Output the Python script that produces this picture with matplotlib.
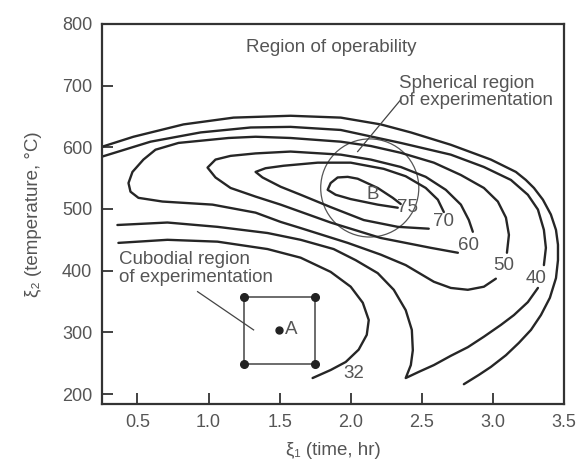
import numpy as np
import matplotlib.pyplot as plt
from matplotlib.patches import Ellipse

plt.rcParams['font.family'] = ['Liberation Sans', 'DejaVu Sans']

LINE = '#262626'
TXT = '#555555'
FS = 13.5

# contour curves (time in hr, temperature in C)
c75_x = [2.352, 2.296, 2.190, 2.049, 1.979, 1.908, 1.859, 1.838, 1.894, 2.000, 2.190, 2.331]
c75_y = [508, 518, 534, 549, 552, 551, 542, 531, 523, 516, 507, 502]

c70_x = [2.655, 2.613, 2.528, 2.387, 2.232, 2.000, 1.768, 1.528, 1.401, 1.331,
         1.380, 1.507, 1.648, 1.859, 2.092, 2.331, 2.549]
c70_y = [495, 515, 534, 553, 565, 575, 575, 570, 566, 560,
         551, 536, 523, 503, 482, 471, 468]

c60_x = [2.859, 2.831, 2.775, 2.669, 2.528, 2.352, 2.141, 1.930, 1.577, 1.331, 1.155,
         1.049, 0.993, 1.049, 1.155, 1.331, 1.507, 1.859, 2.211, 2.563, 2.754]
c60_y = [463, 482, 507, 531, 552, 568, 580, 588, 593, 590, 586,
         580, 567, 551, 534, 520, 507, 478, 453, 437, 429]

c50_x = [3.099, 3.113, 3.092, 3.035, 2.937, 2.775, 2.585, 2.352, 2.141, 1.930, 1.577,
         1.331, 1.141, 0.789, 0.627, 0.542, 0.465, 0.437, 0.451, 0.507, 0.676, 1.028,
         1.331, 1.507, 1.648, 1.979, 2.211, 2.387, 2.585, 2.704, 2.824, 2.937, 3.021]
c50_y = [429, 458, 486, 512, 534, 555, 575, 591, 602, 609, 615,
         617, 615, 607, 596, 580, 560, 542, 528, 518, 512, 507,
         494, 479, 469, 445, 426, 409, 382, 372, 369, 374, 387]

c40a_x = [0.254, 0.592, 0.944, 1.296, 1.577, 1.930, 2.352, 2.704, 2.937, 3.127,
          3.246, 3.317, 3.359, 3.373, 3.359]
c40a_y = [585, 609, 624, 632, 633, 628, 607, 588, 568, 547,
          523, 499, 466, 437, 409]
c40b_x = [3.317, 3.246, 3.148, 3.056, 2.937, 2.824, 2.704, 2.585, 2.479, 2.387,
          2.423, 2.437, 2.430, 2.387, 2.303, 2.190, 2.035, 1.880, 1.648, 1.415,
          1.063, 0.711, 0.359]
c40b_y = [372, 349, 328, 312, 293, 276, 262, 247, 236, 226,
          247, 271, 304, 336, 369, 396, 417, 435, 450, 461,
          471, 478, 474]

c32_x = [0.366, 0.711, 1.063, 1.415, 1.648, 1.859, 2.000, 2.085, 2.127, 2.113,
         2.056, 1.965, 1.859, 1.732]
c32_y = [445, 450, 447, 435, 421, 398, 374, 348, 320, 296,
         272, 252, 239, 226]

outer_x = [0.254, 0.472, 0.824, 1.176, 1.577, 1.930, 2.211, 2.423, 2.704, 2.986,
           3.162, 3.232, 3.289, 3.352, 3.408, 3.444, 3.458, 3.458, 3.444, 3.401,
           3.338, 3.268, 3.183, 3.092, 2.986, 2.901, 2.796]
outer_y = [601, 617, 637, 648, 651, 648, 637, 624, 604, 580,
           560, 547, 534, 515, 491, 466, 442, 417, 388, 356,
           328, 304, 283, 263, 244, 231, 216]

labels = ['75', '70', '60', '50', '40', '32']
label_x = [2.40, 2.655, 2.831, 3.077, 3.303, 2.021]
label_y = [502, 479, 440, 409, 388, 234]

# experimental regions
cube_x = [1.25, 1.75]
cube_y = [249, 357]
point_a = (1.493, 304)
sphere_center = (2.134, 534)
sphere_w, sphere_h = 0.69, 159

fig = plt.figure(figsize=(5.79, 4.67), dpi=100)
ax = fig.add_axes([0.176, 0.135, 0.798, 0.814])

for xs, ys in [(c75_x, c75_y), (c70_x, c70_y), (c60_x, c60_y), (c50_x, c50_y),
               (c40a_x, c40a_y), (c40b_x, c40b_y), (c32_x, c32_y),
               (outer_x, outer_y)]:
    ax.plot(xs, ys, color=LINE, lw=1.7, solid_capstyle='round',
            solid_joinstyle='round')

for t, x, y in zip(labels, label_x, label_y):
    ax.text(x, y, t, fontsize=FS, color=TXT, ha='center', va='center')

# spherical region
ax.add_patch(Ellipse(sphere_center, sphere_w, sphere_h, fill=False,
                     ec='#555555', lw=0.9))
ax.text(2.155, 523, 'B', fontsize=FS, color=TXT, ha='center', va='center')
ax.plot([2.049, 2.352], [593, 677], color='#444444', lw=0.9)
ax.text(2.338, 689, 'Spherical region\nof experimentation', fontsize=FS,
        color=TXT, ha='left', va='center', linespacing=1.0)

# cuboidal region
ax.plot([cube_x[0], cube_x[1], cube_x[1], cube_x[0], cube_x[0]],
        [cube_y[0], cube_y[0], cube_y[1], cube_y[1], cube_y[0]],
        color='#444444', lw=1.1)
ax.plot([cube_x[0], cube_x[1], cube_x[1], cube_x[0]],
        [cube_y[0], cube_y[0], cube_y[1], cube_y[1]],
        'o', color='#222222', ms=5.5)
ax.plot(*point_a, 'o', color='#222222', ms=5)
ax.text(1.585, 304, 'A', fontsize=FS, color=TXT, ha='center', va='center')
ax.plot([0.923, 1.317], [366, 304], color='#444444', lw=0.9)
ax.text(0.37, 403, 'Cubodial region\nof experimentation', fontsize=FS,
        color=TXT, ha='left', va='center', linespacing=1.05)

ax.text(1.261, 761, 'Region of operability', fontsize=FS, color=TXT,
        ha='left', va='center')

ax.set_xlim(0.25, 3.5)
ax.set_ylim(184, 800)
ax.set_xticks([0.5, 1.0, 1.5, 2.0, 2.5, 3.0, 3.5])
ax.set_xticklabels(['0.5', '1.0', '1.5', '2.0', '2.5', '3.0', '3.5'])
ax.set_yticks([200, 300, 400, 500, 600, 700, 800])
ax.tick_params(direction='in', length=8, width=1.3, colors='#333333',
               labelcolor=TXT, labelsize=13, pad=7)
for s in ax.spines.values():
    s.set_linewidth(1.6)
    s.set_color('#333333')

ax.set_xlabel('ξ₁ (time, hr)', fontsize=FS, color=TXT, labelpad=8)
ax.set_ylabel('ξ₂ (temperature, °C)', fontsize=FS, color=TXT, labelpad=14)

fig.savefig('out.png', dpi=100)
